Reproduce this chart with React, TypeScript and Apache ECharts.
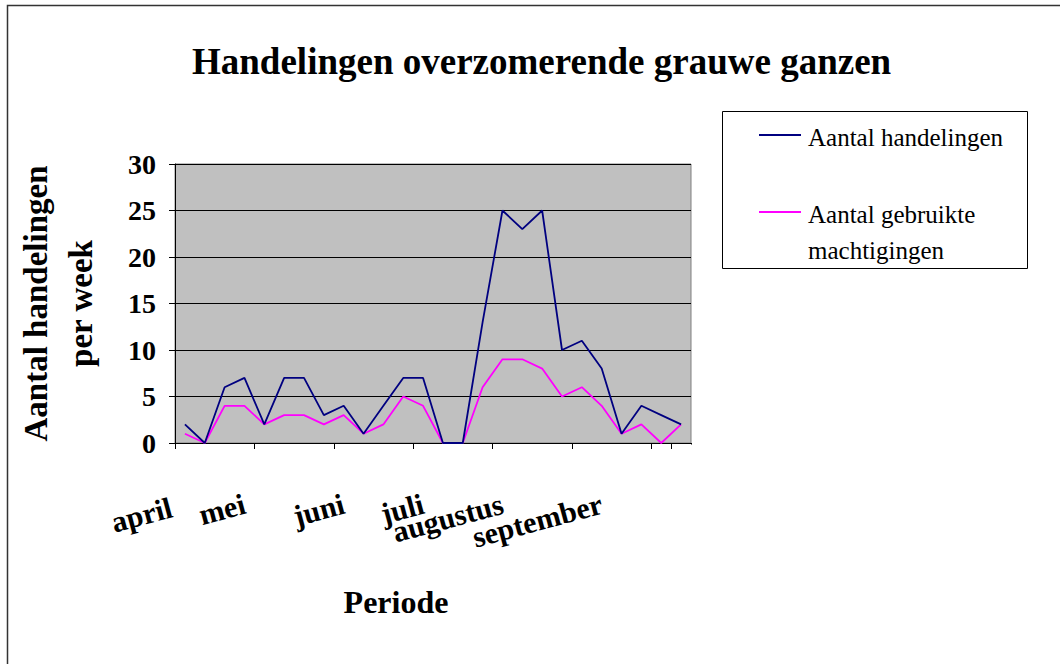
import React, { useEffect, useRef } from "react";
import * as echarts from "echarts";

// 26 weekly observations, April – September
const weekIds = [
  "w1", "w2", "w3", "w4", "w5", "w6", "w7", "w8", "w9", "w10", "w11", "w12", "w13",
  "w14", "w15", "w16", "w17", "w18", "w19", "w20", "w21", "w22", "w23", "w24", "w25", "w26",
];
// month label shown under a given week index
const monthIndex = [0, 3, 8, 12, 16, 21];
const monthNames = ["april", "mei", "juni", "juli", "augustus", "september"];

const seriesNames = ["Aantal handelingen", "Aantal gebruikte\nmachtigingen"];
const handelingen = [2, 0, 6, 7, 2, 7, 7, 3, 4, 1, 4, 7, 7, 0, 0, 13, 25, 23, 25, 10, 11, 8, 1, 4, 3, 2];
const machtigingen = [1, 0, 4, 4, 2, 3, 3, 2, 3, 1, 2, 5, 4, 0, 0, 6, 9, 9, 8, 5, 6, 4, 1, 2, 0, 2];

const titleText = "Handelingen overzomerende grauwe ganzen";
const yTitle = "Aantal handelingen\nper week";
const xTitle = "Periode";

const FONT = "'Liberation Serif', 'Times New Roman', serif";
const NAVY = "#000080";
const MAGENTA = "#FF00FF";

export default function App() {
  const ref = useRef<HTMLDivElement>(null);
  useEffect(() => {
    if (!ref.current) return;
    const chart = echarts.init(ref.current, undefined, { renderer: "svg" });
    const categoryData = weekIds.map((id, i) => {
      const k = monthIndex.indexOf(i);
      if (k === 0) {
        return { value: id, textStyle: { padding: [0, 14, 0, 0] } };
      }
      return id;
    });
    const labelFor = (i: number) => {
      const k = monthIndex.indexOf(i);
      return k >= 0 ? monthNames[k] : "";
    };
    chart.setOption({
      animation: false,
      backgroundColor: "#ffffff",
      title: {
        text: titleText,
        left: 187,
        top: 38,
        textStyle: { fontFamily: FONT, fontSize: 37, fontWeight: "bold", color: "#000" },
      },
      legend: { show: false },
      grid: {
        left: 175,
        top: 164,
        width: 516,
        height: 279,
        show: true,
        backgroundColor: "#C0C0C0",
        borderColor: "#808080",
        borderWidth: 1,
      },
      xAxis: {
        type: "category",
        data: categoryData,
        boundaryGap: true,
        name: xTitle,
        nameLocation: "middle",
        nameGap: 143,
        nameTextStyle: {
          fontFamily: FONT,
          fontSize: 32,
          fontWeight: "bold",
          color: "#000",
          padding: [0, 74, 0, 0],
        },
        axisLine: { lineStyle: { color: "#000", width: 1 } },
        axisTick: { show: true, interval: 3, length: 6, lineStyle: { color: "#000" } },
        axisLabel: {
          interval: 0,
          rotate: 15,
          margin: 60,
          formatter: (_v: string, i: number) => labelFor(i),
          fontFamily: FONT,
          fontSize: 30,
          fontWeight: "bold",
          color: "#000",
        },
        splitLine: { show: false },
      },
      yAxis: {
        type: "value",
        min: 0,
        max: 30,
        interval: 5,
        name: yTitle,
        nameLocation: "middle",
        nameRotate: 90,
        nameGap: 72,
        nameTextStyle: {
          fontFamily: FONT,
          fontSize: 33,
          fontWeight: "bold",
          color: "#000",
          lineHeight: 45,
        },
        axisLine: { show: true, lineStyle: { color: "#000", width: 1 } },
        axisTick: { show: true, length: 6, lineStyle: { color: "#000" } },
        axisLabel: {
          margin: 19,
          fontFamily: FONT,
          fontSize: 28,
          fontWeight: "bold",
          color: "#000",
        },
        splitLine: { show: true, lineStyle: { color: "#000", width: 1 } },
      },
      series: [
        {
          name: seriesNames[0],
          type: "line",
          data: handelingen,
          symbol: "none",
          lineStyle: { color: NAVY, width: 1.8 },
          itemStyle: { color: NAVY },
          z: 3,
        },
        {
          name: seriesNames[1],
          type: "line",
          data: machtigingen,
          symbol: "none",
          lineStyle: { color: MAGENTA, width: 1.8 },
          itemStyle: { color: MAGENTA },
          z: 2,
        },
      ],
      graphic: [
        {
          type: "rect",
          shape: { x: 7.5, y: 5.5, width: 2000, height: 2000 },
          style: { fill: "none", stroke: "#333", lineWidth: 1.5 },
          silent: true,
          z: -10,
        },
        {
          // hide the closing band tick at the right end of the category axis
          type: "rect",
          shape: { x: 688, y: 444.5, width: 8, height: 8 },
          style: { fill: "#fff" },
          silent: true,
          z: 100,
        },
        {
          type: "rect",
          shape: { x: 722.5, y: 111.5, width: 305, height: 157 },
          style: { fill: "#fff", stroke: "#000", lineWidth: 1 },
          silent: true,
        },
        {
          type: "line",
          shape: { x1: 759, y1: 135, x2: 801, y2: 135 },
          style: { stroke: NAVY, lineWidth: 2 },
        },
        {
          type: "text",
          x: 808,
          y: 137,
          style: {
            text: seriesNames[0],
            fontFamily: FONT,
            fontSize: 25,
            fill: "#000",
            verticalAlign: "middle",
          },
        },
        {
          type: "line",
          shape: { x1: 759, y1: 212, x2: 801, y2: 212 },
          style: { stroke: MAGENTA, lineWidth: 2 },
        },
        {
          type: "text",
          x: 808,
          y: 196,
          style: {
            text: seriesNames[1],
            fontFamily: FONT,
            fontSize: 25,
            lineHeight: 36,
            fill: "#000",
            verticalAlign: "top",
          },
        },
      ],
    });
    return () => chart.dispose();
  }, []);
  return (
    <div
      ref={ref}
      style={{ position: "absolute", left: 0, top: 0, width: 1060, height: 664 }}
    />
  );
}
